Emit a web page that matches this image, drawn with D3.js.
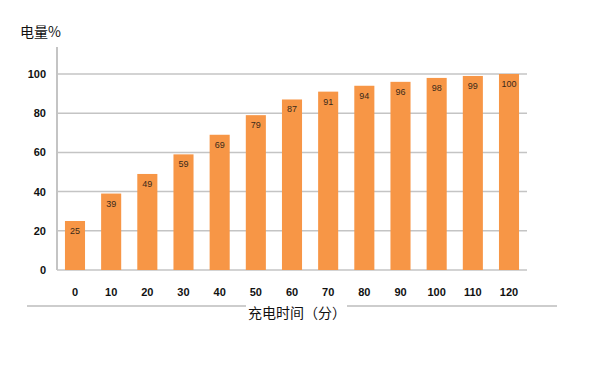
<!DOCTYPE html>
<html>
<head>
<meta charset="utf-8">
<script src="https://cdn.jsdelivr.net/npm/d3@7"></script>
<style>
  body { margin: 0; background: #fff; }
  svg { display: block; font-family: "Liberation Sans", Arial, sans-serif; }
</style>
</head>
<body>
<svg id="chart" width="600" height="366"></svg>
<script>
// charging time (minutes) and battery level (%)
const minutes = ["0", "10", "20", "30", "40", "50", "60", "70", "80", "90", "100", "110", "120"];
const levels = [25, 39, 49, 59, 69, 79, 87, 91, 94, 96, 98, 99, 100];
const yTicks = [0, 20, 40, 60, 80, 100];

const svg = d3.select("#chart");

let plotLeft = 57, plotRight = 527, plotTop = 74, plotBottom = 270;

let x = d3.scaleBand().domain(minutes).range([plotLeft, plotRight]).paddingInner(0.445).paddingOuter(0.22);
let y = d3.scaleLinear().domain([0, 100]).range([plotBottom, plotTop]);

// grid lines
svg.append("g")
    .selectAll("line")
    .data(yTicks.filter(d => d > 0))
    .enter().append("line")
    .attr("x1", plotLeft)
    .attr("x2", plotRight)
    .attr("y1", d => y(d))
    .attr("y2", d => y(d))
    .attr("stroke", "#c4c4c4")
    .attr("stroke-width", 1.5);

// y axis line
svg.append("line")
    .attr("x1", plotLeft).attr("x2", plotLeft)
    .attr("y1", 47).attr("y2", plotBottom)
    .attr("stroke", "#c4c4c4")
    .attr("stroke-width", 2);

// x axis baseline
svg.append("line")
    .attr("x1", plotLeft).attr("x2", plotRight)
    .attr("y1", plotBottom).attr("y2", plotBottom)
    .attr("stroke", "#c4c4c4")
    .attr("stroke-width", 1.5);

// y tick labels
svg.append("g")
    .selectAll("text")
    .data(yTicks)
    .enter().append("text")
    .attr("x", 46)
    .attr("y", d => y(d) + 4)
    .attr("text-anchor", "end")
    .attr("font-size", "11px")
    .attr("font-weight", "bold")
    .attr("fill", "#111")
    .text(d => d);

// bars
let bars = svg.append("g").selectAll("g").data(minutes).enter().append("g");

bars.append("rect")
    .attr("x", d => x(d))
    .attr("y", (d, i) => y(levels[i]))
    .attr("width", x.bandwidth())
    .attr("height", (d, i) => plotBottom - y(levels[i]))
    .attr("fill", "#f79646");

bars.append("text")
    .attr("x", d => x(d) + x.bandwidth() / 2)
    .attr("y", (d, i) => y(levels[i]) + 13)
    .attr("text-anchor", "middle")
    .attr("font-size", "9px")
    .attr("fill", "#3a2a1a")
    .text((d, i) => levels[i]);

// x tick labels
svg.append("g")
    .selectAll("text")
    .data(minutes)
    .enter().append("text")
    .attr("x", d => x(d) + x.bandwidth() / 2)
    .attr("y", 296)
    .attr("text-anchor", "middle")
    .attr("font-size", "11px")
    .attr("font-weight", "bold")
    .attr("fill", "#111")
    .text(d => d);

// bottom separator with the axis title in the middle
svg.append("line")
    .attr("x1", 27).attr("x2", 246)
    .attr("y1", 306).attr("y2", 306)
    .attr("stroke", "#bdbdbd").attr("stroke-width", 1.5);
svg.append("line")
    .attr("x1", 347).attr("x2", 557)
    .attr("y1", 306).attr("y2", 306)
    .attr("stroke", "#bdbdbd").attr("stroke-width", 1.5);

svg.append("text")
    .attr("x", 297)
    .attr("y", 318)
    .attr("text-anchor", "middle")
    .attr("font-size", "14px")
    .attr("font-family", "Noto Sans CJK SC")
    .attr("fill", "#111")
    .text("充电时间（分）");

// y axis title
svg.append("text")
    .attr("x", 20)
    .attr("y", 37)
    .attr("font-size", "14px")
    .attr("font-family", "Noto Sans CJK SC")
    .attr("fill", "#111")
    .text("电量%");
</script>
</body>
</html>
